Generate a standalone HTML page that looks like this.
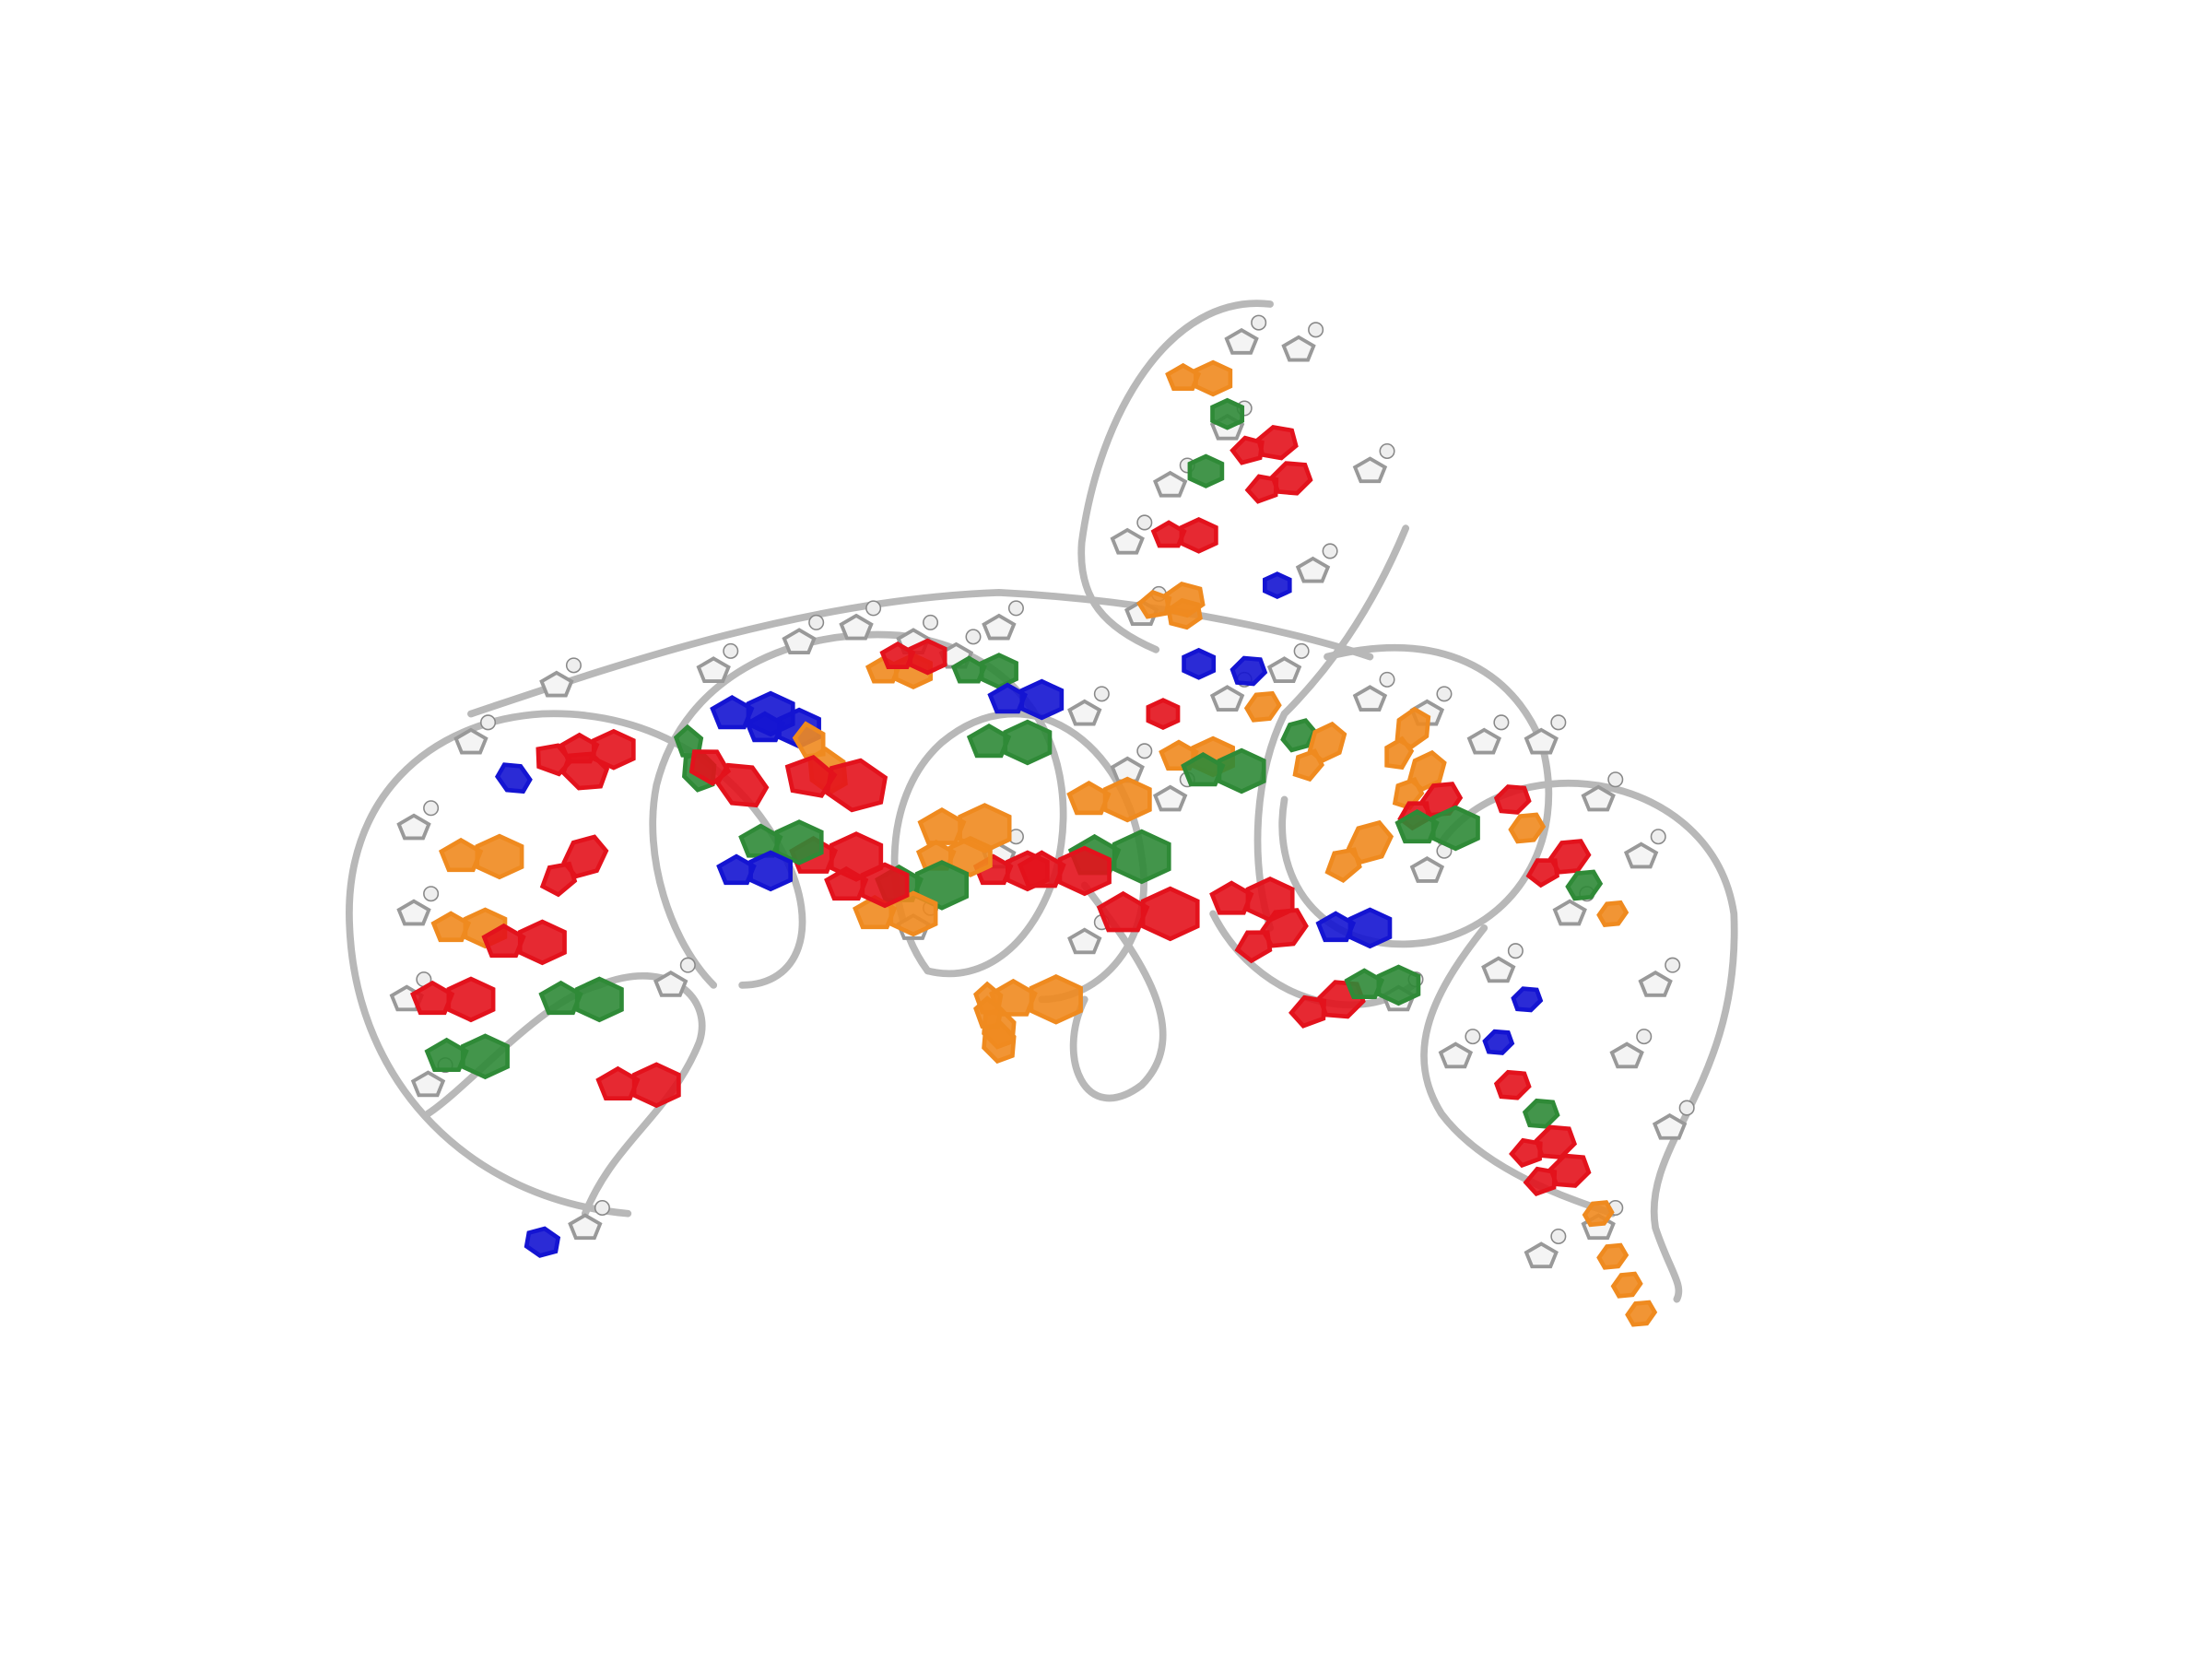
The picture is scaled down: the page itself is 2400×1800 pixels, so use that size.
<!DOCTYPE html>
<html><head><meta charset="utf-8">
<style>
html,body{margin:0;padding:0;background:#fff;}
#wrap{width:2400px;height:1800px;}
svg{display:block}
</style></head>
<body>
<div id="wrap">
<svg id="mol" width="2400" height="1800" viewBox="0 0 1550 1162" preserveAspectRatio="none">
<rect width="1550" height="1162" fill="#ffffff"/>
<g id="backbone" fill="none" stroke="#b8b8b8" stroke-width="5" stroke-linecap="round">
<path d="M440,850 C330,840 250,760 245,650 C240,560 300,505 380,500 C460,497 520,540 550,600 C575,650 560,690 520,690"/>
<path d="M500,690 C470,660 450,600 460,550 C480,470 560,440 630,445 C720,455 760,530 740,610 C725,660 690,690 650,680"/>
<path d="M650,680 C620,640 615,560 660,520 C720,470 790,520 800,600 C810,660 770,700 730,700"/>
<path d="M330,500 C420,470 560,420 700,415 C800,420 900,440 960,460"/>
<path d="M890,213 C820,205 770,290 758,380 C755,420 775,440 810,455"/>
<path d="M985,370 C960,430 930,470 900,500 C880,540 875,600 890,650"/>
<path d="M930,460 C1010,440 1060,470 1080,520 C1100,590 1060,650 1000,660 C930,670 890,620 900,560"/>
<path d="M1010,590 C1060,520 1200,540 1215,640 C1220,760 1150,800 1160,860 C1170,890 1180,900 1175,910"/>
<path d="M1040,650 C1000,700 985,740 1010,780 C1040,820 1100,840 1130,850"/>
<path d="M300,780 C330,760 380,700 420,690 C470,670 500,700 490,730 C470,780 430,800 410,850"/>
<path d="M760,620 C790,660 840,720 800,760 C760,790 740,740 760,700"/>
<path d="M850,640 C880,700 950,720 990,690"/>
</g>
<g id="sugars"></g>
<g id="bases"></g>
</svg>
</div>
<script>
// base positions: x, y, colour code, size, rotation
const baseX=[850,860,895,845,905,840,830,895,830,815,840,875,885,910,990,1000,1010,1060,1070,1100,1110,1130,1070,1050,1060,1080,1090,1100,1120,1130,1140,1150,
 360,410,430,490,540,560,520,580,600,600,640,650,700,730,720,790,800,760,720,690,680,660,640,620,560,540,350,340,380,330,340,420,460,380,410,930,960,900,940,980,1020,960,890,850,870,820,740,700,700];
const baseY=[265,290,310,330,335,375,420,410,430,500,465,470,495,515,510,540,560,560,580,600,620,640,700,730,760,780,800,820,850,880,900,920,
 545,540,525,540,500,510,550,540,550,600,470,460,470,490,520,560,600,610,610,580,600,620,640,620,590,610,600,650,660,700,740,700,760,870,600,520,590,650,700,690,580,650,630,530,540,640,700,720,730];
const baseC=["o","g","r","g","r","r","o","b","o","r","b","b","o","g","o","o","r","r","o","r","g","o","b","b","r","g","r","r","o","o","o","o",
 "b","r","r","g","b","b","r","o","r","r","o","r","g","b","g","o","g","r","r","o","o","g","o","r","g","b","o","o","r","r","g","g","r","b","r","o","o","r","r","g","g","b","r","o","g","r","o","o","o"];
const baseS=[14,12,14,13,14,14,14,10,12,12,12,12,12,12,14,14,14,12,12,14,12,10,10,10,12,12,14,14,10,10,10,10,
 12,16,16,14,18,16,18,16,22,20,14,14,14,16,18,18,22,20,16,20,16,20,18,18,18,16,18,16,18,18,18,18,18,12,16,14,16,16,16,16,18,16,18,16,18,22,20,14,14];
const baseR=[0,0,-15,0,-20,0,-10,0,-10,0,0,-20,-30,-40,-60,-50,-30,-20,-30,-30,-30,-30,-20,-20,-20,-20,-20,-20,-30,-30,-30,-30,
 30,20,0,70,0,0,30,60,10,0,0,0,0,0,0,0,0,0,0,0,0,0,0,0,0,0,0,0,0,0,0,0,0,10,-40,-50,-40,-30,-20,0,0,0,0,0,0,0,0,70,70];
const sugarX=[870,910,960,860,820,790,800,920,290,290,285,300,330,390,410,470,500,560,600,640,670,700,760,790,820,860,900,960,1000,1040,1080,1120,1150,1160,1170,1020,1050,1100,1140,1120,1080,1000,700,640,760,980];
const sugarY=[240,245,330,300,340,380,430,400,580,640,700,760,520,480,860,690,470,450,440,450,460,440,500,540,560,490,470,490,500,520,520,560,600,690,790,740,680,640,740,860,880,610,600,650,660,700];
const colors={r:"#e3121c",o:"#ef8a1f",g:"#2f8a37",b:"#1414d2"};
const NS="http://www.w3.org/2000/svg";
function hexPts(x,y,s){let p=[];for(let i=0;i<6;i++){const a=Math.PI/3*i+Math.PI/6;p.push((x+s*Math.cos(a)).toFixed(1)+","+(y+s*0.8*Math.sin(a)).toFixed(1));}return p.join(" ");}
function pentPts(x,y,s){let p=[];for(let i=0;i<5;i++){const a=2*Math.PI/5*i-Math.PI/2;p.push((x+s*Math.cos(a)).toFixed(1)+","+(y+s*0.8*Math.sin(a)).toFixed(1));}return p.join(" ");}
const sg=document.getElementById('sugars');
for(let i=0;i<sugarX.length;i++){
 const p=document.createElementNS(NS,'polygon');
 p.setAttribute('points',pentPts(sugarX[i],sugarY[i],11));
 p.setAttribute('fill','#f4f4f4');p.setAttribute('stroke','#999');p.setAttribute('stroke-width','2.5');
 
 
 sg.appendChild(p);
 const c=document.createElementNS(NS,'circle');
 c.setAttribute('cx',sugarX[i]+12);c.setAttribute('cy',sugarY[i]-14);c.setAttribute('r',5);
 c.setAttribute('fill','#eee');c.setAttribute('stroke','#888');c.setAttribute('stroke-width','1');
 
 
 sg.appendChild(c);
}
const bg=document.getElementById('bases');
for(let i=0;i<baseX.length;i++){
 const g=document.createElementNS(NS,'g');
 g.setAttribute('transform','rotate('+baseR[i]+' '+baseX[i]+' '+baseY[i]+')');
 
 
 const col=colors[baseC[i]];
 const h=document.createElementNS(NS,'polygon');
 h.setAttribute('points',hexPts(baseX[i],baseY[i],baseS[i]));
 h.setAttribute('fill',col);h.setAttribute('stroke',col);h.setAttribute('stroke-width','3');h.setAttribute('fill-opacity','0.9');
 g.appendChild(h);
 if(baseS[i]>=14){
  const h2=document.createElementNS(NS,'polygon');
  h2.setAttribute('points',pentPts(baseX[i]-baseS[i]*1.5,baseY[i],baseS[i]*0.8));
  h2.setAttribute('fill',col);h2.setAttribute('stroke',col);h2.setAttribute('stroke-width','3');h2.setAttribute('fill-opacity','0.9');
  g.appendChild(h2);
 }
 bg.appendChild(g);
}
</script>
</body></html>
